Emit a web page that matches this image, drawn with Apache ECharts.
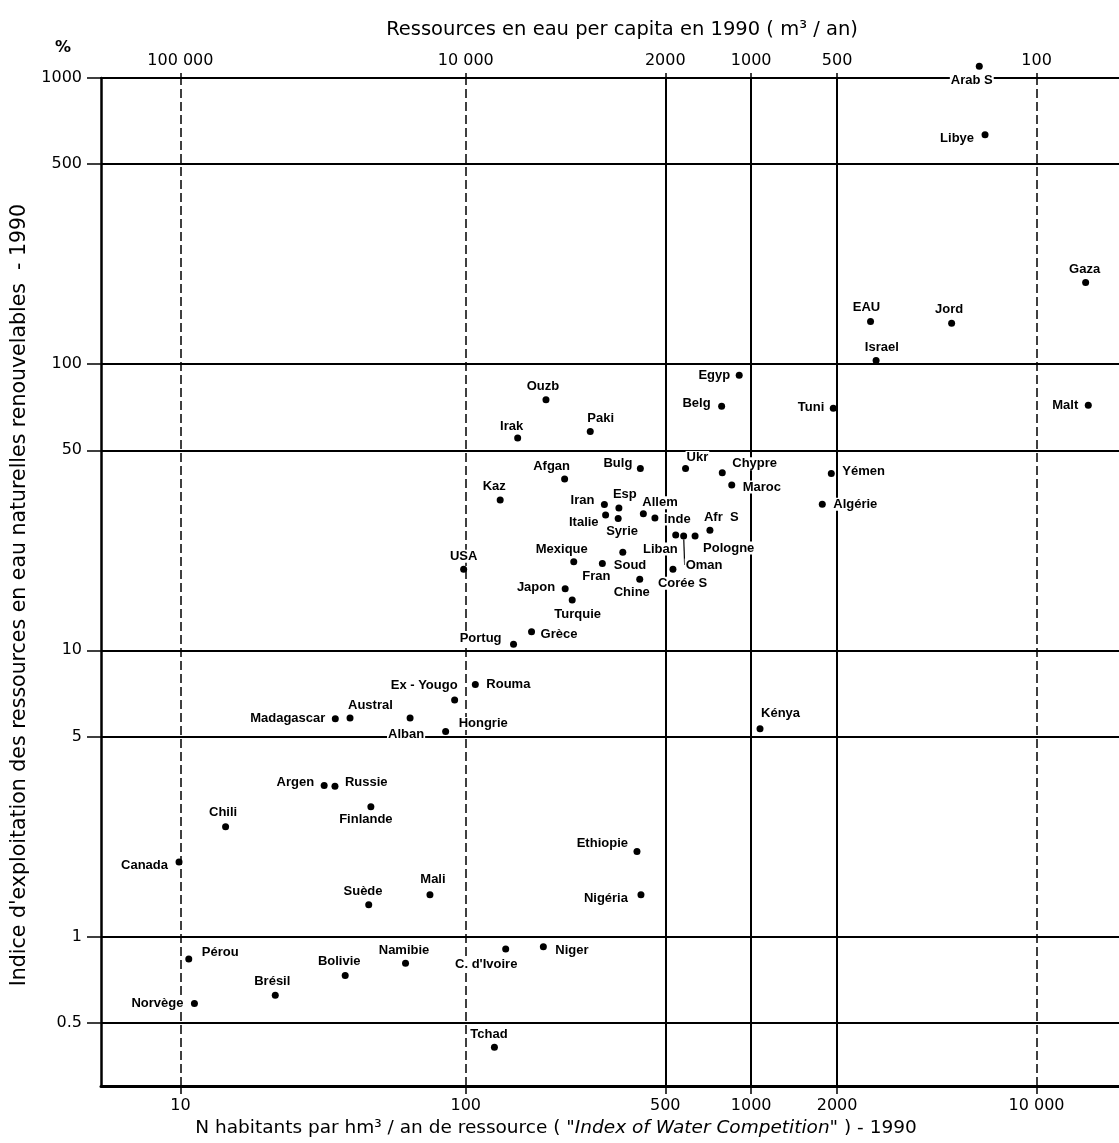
<!DOCTYPE html>
<html><head><meta charset="utf-8">
<script src="https://cdn.jsdelivr.net/npm/echarts@6/dist/echarts.min.js"></script>
<style>html,body{margin:0;padding:0;background:#fff;} #chart{width:1119px;height:1143px;}</style>
</head><body><div id="chart"></div>
<script>
// ---------- DATA ----------
const countries = ["Arab S","Libye","Gaza","EAU","Jord","Israel","Malt","Tuni","Egyp","Belg",
  "Ouzb","Paki","Irak","Bulg","Ukr","Chypre","Maroc","Yémen","Algérie","Afgan",
  "Kaz","Iran","Esp","Italie","Syrie","Allem","Inde","Afr  S","Liban","Oman",
  "Pologne","Mexique","Soud","Fran","Corée S","Chine","USA","Japon","Turquie","Grèce",
  "Portug","Ex - Yougo","Rouma","Austral","Madagascar","Alban","Hongrie","Kénya","Argen","Russie",
  "Finlande","Chili","Canada","Ethiopie","Nigéria","Mali","Suède","Pérou","Norvège","Brésil",
  "Bolivie","Namibie","C. d'Ivoire","Niger","Tchad"];
// N habitants par hm3/an de ressource (Index of Water Competition)
const waterCompetition = [6300,6600,14860,2620,5040,2740,15180,1940,908,788,
  191,273,152,409,589,792,855,1909,1775,222,
  132,306,344,309,342,419,460,717,544,580,
  636,239,355,301,532,407,98.3,223,236,170,
  147,91.4,108,39.3,34.9,63.8,85.0,1074,31.9,34.8,
  46.5,14.4,9.89,398,411,74.9,45.7,10.7,11.2,21.5,
  37.8,61.5,138,187,126];
// Indice d'exploitation (%)
const exploitationIndex = [1100,633,193,141,139,103,71.8,70.2,91.5,71.2,
  75.1,58.2,55.2,43.2,43.2,41.7,37.8,41.5,32.4,39.7,
  33.5,32.3,31.4,29.7,28.9,30.0,29.0,26.3,25.3,25.1,
  25.1,20.4,22.0,20.1,19.2,17.7,19.2,16.4,15.0,11.6,
  10.5,6.71,7.59,5.80,5.76,5.80,5.20,5.32,3.37,3.35,
  2.84,2.42,1.82,1.98,1.40,1.40,1.29,0.834,0.583,0.623,
  0.730,0.806,0.904,0.921,0.410];
const xTickValues = [10,100,500,1000,2000,10000];
const yTickValues = [0.5,1,5,10,50,100,500,1000];
const perCapitaTicks = [100000,10000,2000,1000,500,100];

// ---------- label placement (style) ----------
const labelPlacement = {
 "Arab S":['center',-7.5,14],"Libye":['right',-10,4],"Gaza":['center',-1,-13],"EAU":['center',-4,-14],
 "Jord":['center',-2.5,-14],"Israel":['center',5.7,-13],"Malt":['right',-9,0],"Tuni":['right',-8,-1],
 "Egyp":['right',-8,0],"Belg":['right',-10,-3],"Ouzb":['center',-3,-13],"Paki":['left',-4,-13],
 "Irak":['center',-6,-12],"Bulg":['right',-7,-5],"Ukr":['left',0,-11],"Chypre":['left',9,-9],
 "Maroc":['left',10,2],"Yémen":['left',10,-2],"Algérie":['left',10,0],"Afgan":['center',-13,-13],
 "Kaz":['center',-6,-14],"Iran":['right',-9,-4],"Esp":['left',-7,-14],"Italie":['right',-6,7],
 "Syrie":['left',-13,13],"Allem":['left',-2,-11],"Inde":['left',8,1],"Afr  S":['left',-7,-13],
 "Liban":['right',3,14],"Oman":['left',1,29],"Pologne":['left',7,12],"Mexique":['center',-12,-12],
 "Soud":['left',-10,13],"Fran":['center',-6,13],"Corée S":['left',-16,14],"Chine":['center',-8,13],
 "USA":['center',0,-13],"Japon":['right',-9,-1],"Turquie":['center',5.5,14],"Grèce":['left',8,3],
 "Portug":['right',-11,-6],"Ex - Yougo":['right',4,-14],"Rouma":['left',10,0],"Austral":['left',-3,-13],
 "Madagascar":['right',-9,0],"Alban":['center',-4,16],"Hongrie":['left',12,-8],"Kénya":['left',0,-15],
 "Argen":['right',-9,-3],"Russie":['left',9,-4],"Finlande":['center',-5,13],"Chili":['center',-2.5,-14],
 "Canada":['right',-10,3],"Ethiopie":['right',-8,-8],"Nigéria":['right',-12,4],"Mali":['center',3,-15],
 "Suède":['center',-5.7,-13],"Pérou":['left',12,-7],"Norvège":['right',-10,0],"Brésil":['center',-3,-14],
 "Bolivie":['center',-6,-14],"Namibie":['center',-1.5,-13],"C. d'Ivoire":['center',-19.5,15],
 "Niger":['left',11,4],"Tchad":['center',-5.5,-13]
};
const leaderLabels = { "Oman": true };

const X_MIN = 5.27, X_MAX = 19450;
const fmtNum = v => v >= 10000 ? String(v).replace(/(\d)(?=(\d{3})+$)/g, '$1 ') : String(v);
const NUMFONT = 'DejaVu Sans';

const points = countries.map((c, i) => {
  const p = labelPlacement[c] || ['left', 8, 0];
  const item = {
    name: c,
    value: [waterCompetition[i], exploitationIndex[i]],
    label: { align: p[0], offset: [p[1], p[2]] }
  };
  if (leaderLabels[c]) item.labelLine = { show: true, lineStyle: { color: '#000', width: 1.2 } };
  return item;
});

const dashed = { color: '#000', width: 1.5, type: [9, 4] };
const solid = { color: '#000', width: 2, type: 'solid' };
const vLines = xTickValues.map(v => ({ xAxis: v, lineStyle: (v === 10 || v === 100 || v === 10000) ? dashed : solid }));
const hLines = yTickValues.filter(v => v < 1000).map(v => ({ yAxis: v, lineStyle: { color: '#000', width: 2, type: 'solid' } }));

const chart = echarts.init(document.getElementById('chart'), null, { renderer: 'canvas' });
chart.setOption({
  animation: false,
  backgroundColor: '#fff',
  grid: { left: 101, right: 0, top: 78, bottom: 55, containLabel: false },
  xAxis: [
    {
      type: 'log', logBase: 10, position: 'bottom', min: X_MIN, max: X_MAX,
      axisLine: { lineStyle: { color: '#000', width: 3 } },
      axisTick: { show: true, customValues: xTickValues, length: 8, lineStyle: { color: '#000', width: 1.5 } },
      axisLabel: { customValues: xTickValues, formatter: v => fmtNum(v), color: '#000', fontFamily: NUMFONT, fontSize: 16, margin: 12 },
      splitLine: { show: false },
      name: 'N habitants par hm³ / an de ressource ( "{i|Index of Water Competition}" ) - 1990',
      nameLocation: 'middle', nameGap: 29,
      nameTextStyle: { color: '#000', fontFamily: NUMFONT, fontSize: 18.5, padding: [0, 108, 0, 0],
        rich: { i: { fontStyle: 'italic', fontFamily: NUMFONT, fontSize: 18.5, color: '#000' } } }
    },
    {
      type: 'log', logBase: 10, position: 'top', inverse: true, min: 1e6 / X_MAX, max: 1e6 / X_MIN,
      axisLine: { lineStyle: { color: '#000', width: 2 } },
      axisTick: { show: true, customValues: perCapitaTicks, length: 5, lineStyle: { color: '#000', width: 1.5 } },
      axisLabel: { customValues: perCapitaTicks, formatter: v => fmtNum(v), color: '#000', fontFamily: NUMFONT, fontSize: 16, margin: 9 },
      splitLine: { show: false },
      name: 'Ressources en eau per capita en 1990 ( m³ / an)',
      nameLocation: 'middle', nameGap: 38,
      nameTextStyle: { color: '#000', fontFamily: NUMFONT, fontSize: 19.5, padding: [0, 0, 0, 24] }
    }
  ],
  yAxis: {
    type: 'log', logBase: 10, min: 0.3, max: 1000,
    axisLine: { lineStyle: { color: '#000', width: 2.5 } },
    axisTick: { show: true, customValues: yTickValues, length: 14, lineStyle: { color: '#000', width: 1.5 } },
    axisLabel: { customValues: yTickValues, formatter: v => String(v), color: '#000', fontFamily: NUMFONT, fontSize: 16, margin: 19 },
    splitLine: { show: false },
    name: "Indice d'exploitation des ressources en eau naturelles renouvelables  - 1990",
    nameLocation: 'middle', nameGap: 70, nameRotate: 90,
    nameTextStyle: { color: '#000', fontFamily: NUMFONT, fontSize: 20.5, padding: [0, 26, 0, 0] }
  },
  graphic: [{ type: 'text', left: 55, top: 40, style: { text: '%', font: 'bold 16px DejaVu Sans', fill: '#000' } }],
  series: [
    {
      type: 'scatter', xAxisIndex: 0, yAxisIndex: 0, data: [], z: 1, silent: true,
      markLine: { silent: true, symbol: 'none', label: { show: false }, animation: false,
        lineStyle: { type: 'solid', color: '#000' },
        data: vLines.concat(hLines) }
    },
    {
      type: 'scatter', xAxisIndex: 0, yAxisIndex: 0, z: 10, clip: false,
      symbol: 'circle', symbolSize: 7,
      itemStyle: { color: '#000', opacity: 1 },
      label: {
        show: true, position: 'inside', formatter: '{b}', verticalAlign: 'middle',
        color: '#000', fontFamily: 'Liberation Sans', fontSize: 13, fontWeight: 'bold',
        backgroundColor: '#fff', padding: [0, 1]
      },
      data: points
    }
  ]
});
</script></body></html>
